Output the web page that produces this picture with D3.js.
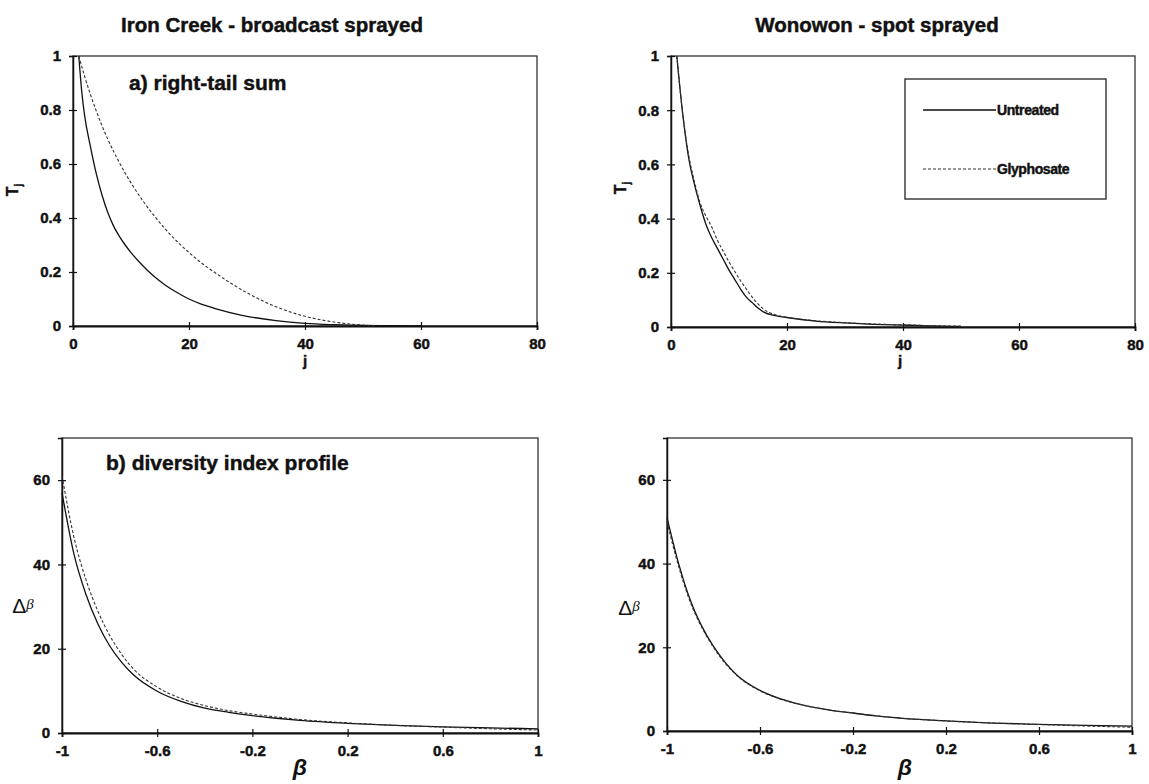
<!DOCTYPE html>
<html><head><meta charset="utf-8">
<script src="https://cdn.jsdelivr.net/npm/d3@7"></script>
<style>
body{margin:0;background:#fff}
svg{display:block}
text{font-family:Arial,"Liberation Sans",sans-serif;font-weight:bold;fill:#111}
text.heavy{stroke:#111;stroke-width:0.45px}
</style>
</head><body>
<svg id="c" width="1149" height="784"></svg>
<script>
// ---- data ----
const titles = ["Iron Creek - broadcast sprayed", "Wonowon - spot sprayed"];
const seriesNames = ["Untreated", "Glyphosate"];
const jTicks = [0, 20, 40, 60, 80];
const tTicks = [0, 0.2, 0.4, 0.6, 0.8, 1];
const betaTicks = [-1, -0.6, -0.2, 0.2, 0.6, 1];
const deltaTicks = [0, 20, 40, 60];

// Iron Creek, right-tail sum
const ironJUntreated = [1,1.5,2,3,4,5,6,7,8,9,10,12,14,16,18,20,22,25,28,30,35,40,45,50,55,60];
const ironTUntreated = [1,0.87,0.78,0.665,0.565,0.485,0.42,0.37,0.332,0.3,0.272,0.224,0.183,0.15,0.123,0.1,0.082,0.062,0.045,0.036,0.02,0.01,0.005,0.002,0.001,0];
const ironJGlyphosate = [1,2,3,4,5,6,8,10,12,14,16,18,20,22,25,28,30,33,36,40,44,48,52];
const ironTGlyphosate = [1,0.925,0.858,0.797,0.742,0.692,0.605,0.53,0.465,0.408,0.357,0.312,0.272,0.236,0.19,0.148,0.123,0.09,0.063,0.036,0.018,0.007,0.001];

// Wonowon, right-tail sum
const wonJ = [1,2,3,4,5,6,7,8,9,10,11,12,13,14,15,16,18,20,25,30,35,40,45,50];
const wonTUntreated = [1,0.79,0.63,0.53,0.45,0.38,0.33,0.29,0.25,0.21,0.175,0.14,0.11,0.09,0.07,0.055,0.042,0.035,0.022,0.015,0.01,0.007,0.004,0.002];
const wonTGlyphosate = [1,0.79,0.64,0.54,0.46,0.41,0.37,0.32,0.28,0.24,0.205,0.17,0.14,0.11,0.085,0.065,0.045,0.036,0.023,0.016,0.011,0.008,0.005,0.003];

// diversity index profiles
const beta = [-1,-0.95,-0.9,-0.85,-0.8,-0.75,-0.7,-0.6,-0.5,-0.4,-0.3,-0.2,-0.1,0,0.2,0.4,0.6,0.8,1];
const ironDUntreated = [57,42.5,33,26,20.7,16.8,13.8,9.9,7.5,5.9,4.9,4.1,3.5,3.0,2.3,1.8,1.45,1.2,1.0];
const ironDGlyphosate = [61,46.5,36.5,29,23.2,18.7,15.2,10.9,8.2,6.5,5.3,4.5,3.8,3.2,2.4,1.8,1.4,1.0,0.7];
const wonDUntreated = [51,40,31.3,25,20.2,16.4,13.4,9.7,7.5,6.0,5.0,4.3,3.6,3.1,2.4,1.9,1.6,1.35,1.15];
const wonDGlyphosate = [50,39.3,30.8,24.7,20,16.2,13.3,9.6,7.4,6.0,5.0,4.3,3.6,3.1,2.4,1.9,1.55,1.2,0.9];

// ---- drawing ----
const svg = d3.select("#c");
const fmt = d => String(d);

function zip(xs, ys){ return xs.map((v,i)=>[v, ys[i]]); }

function panel(cfg){
  const x = d3.scaleLinear().domain(cfg.xd).range([cfg.x0, cfg.x1]);
  const y = d3.scaleLinear().domain(cfg.yd).range([cfg.y1, cfg.y0]);
  const g = svg.append("g");
  g.append("rect").attr("x", cfg.x0).attr("y", cfg.y0)
    .attr("width", cfg.x1 - cfg.x0).attr("height", cfg.y1 - cfg.y0)
    .attr("fill", "none").attr("stroke", "#333").attr("stroke-width", 1.3);
  const xa = g.append("g").attr("transform", `translate(0,${y(0)})`)
    .call(d3.axisBottom(x).tickValues(cfg.xt).tickFormat(fmt).tickSizeOuter(0).tickSize(4).tickPadding(8));
  xa.selectAll(".tick line").attr("y1", -4).attr("y2", 4).attr("stroke", "#111").attr("stroke-width", 1.2);
  xa.select(".domain").attr("stroke", "#111").attr("stroke-width", 1.8);
  xa.selectAll("text").attr("font-size", 15).attr("fill", "#111").attr("class", "heavy");
  const ya = g.append("g").attr("transform", `translate(${cfg.x0},0)`)
    .call(d3.axisLeft(y).tickValues(cfg.yt).tickFormat(fmt).tickSizeOuter(0).tickSize(4).tickPadding(8));
  ya.selectAll(".tick line").attr("x1", -4).attr("x2", 4).attr("stroke", "#111").attr("stroke-width", 1.2);
  ya.select(".domain").attr("stroke", "#111").attr("stroke-width", 1.5);
  ya.selectAll("text").attr("font-size", 15).attr("fill", "#111").attr("class", "heavy");
  const line = d3.line().x(d => x(d[0])).y(d => y(d[1])).curve(d3.curveMonotoneX);
  g.append("path").datum(cfg.s1).attr("d", line).attr("fill", "none")
    .attr("stroke", "#111").attr("stroke-width", 1.3);
  g.append("path").datum(cfg.s2).attr("d", line).attr("fill", "none")
    .attr("stroke", "#333").attr("stroke-width", 1.1).attr("stroke-dasharray", "3,2");
  return {x, y, g};
}

panel({x0:73, x1:537, y0:56, y1:326, xd:[0,80], yd:[0,1], xt:jTicks, yt:tTicks,
  s1: zip(ironJUntreated, ironTUntreated), s2: zip(ironJGlyphosate, ironTGlyphosate)});
panel({x0:671, x1:1135, y0:56, y1:327, xd:[0,80], yd:[0,1], xt:jTicks, yt:tTicks,
  s1: zip(wonJ, wonTUntreated), s2: zip(wonJ, wonTGlyphosate)});
panel({x0:62, x1:538, y0:438, y1:733, xd:[-1,1], yd:[0,70], xt:betaTicks, yt:deltaTicks,
  s1: zip(beta, ironDUntreated), s2: zip(beta, ironDGlyphosate)});
panel({x0:667, x1:1132, y0:438, y1:731, xd:[-1,1], yd:[0,70], xt:betaTicks, yt:deltaTicks,
  s1: zip(beta, wonDUntreated), s2: zip(beta, wonDGlyphosate)});

svg.append("text").attr("class", "heavy").attr("x", 272).attr("y", 32).attr("text-anchor", "middle").attr("font-size", 20.5).text(titles[0]);
svg.append("text").attr("class", "heavy").attr("x", 877).attr("y", 32).attr("text-anchor", "middle").attr("font-size", 20.5).text(titles[1]);

svg.append("text").attr("class", "heavy").attr("x", 129).attr("y", 90).attr("font-size", 21).text("a) right-tail sum");
svg.append("text").attr("class", "heavy").attr("x", 106).attr("y", 470).attr("font-size", 21).text("b) diversity index profile");

[[18,190],[626,188]].forEach(([cx,cy]) => {
  const t = svg.append("text").attr("class", "heavy").attr("transform", `translate(${cx},${cy}) rotate(-90)`)
    .attr("text-anchor", "middle").attr("font-size", 16);
  t.append("tspan").text("T");
  t.append("tspan").attr("font-size", 10).attr("dy", 4).text("j");
});
svg.append("text").attr("class", "heavy").attr("x", 305).attr("y", 366).attr("text-anchor", "middle").attr("font-size", 15).text("j");
svg.append("text").attr("class", "heavy").attr("x", 900).attr("y", 366).attr("text-anchor", "middle").attr("font-size", 15).text("j");

[[23,613],[629,615]].forEach(([cx,cy]) => {
  const t = svg.append("text").attr("x", cx).attr("y", cy).attr("text-anchor", "middle");
  t.append("tspan").attr("font-size", 21).attr("font-weight", "normal").text("Δ");
  t.append("tspan").attr("font-size", 15).attr("font-weight", "normal").attr("font-style", "italic")
    .attr("font-family", "'Liberation Serif','DejaVu Serif',serif").attr("dy", -4).text("β");
});
[[300,775],[905,775]].forEach(([cx,cy]) => {
  svg.append("text").attr("x", cx).attr("y", cy).attr("text-anchor", "middle")
    .attr("font-size", 23).attr("font-weight", "normal").attr("font-style", "italic")
    .attr("font-family", "'Liberation Serif','DejaVu Serif',serif").text("β");
});

const lg = svg.append("g");
lg.append("rect").attr("x", 905).attr("y", 79).attr("width", 201).attr("height", 120)
  .attr("fill", "#fff").attr("stroke", "#222").attr("stroke-width", 1.3);
const legendRows = [{name: seriesNames[0], dash: null, y: 110}, {name: seriesNames[1], dash: "3,2", y: 169}];
legendRows.forEach(r => {
  const l = lg.append("line").attr("x1", 923).attr("x2", 996).attr("y1", r.y).attr("y2", r.y)
    .attr("stroke", r.dash ? "#333" : "#111").attr("stroke-width", r.dash ? 1.1 : 1.3);
  if (r.dash) l.attr("stroke-dasharray", r.dash);
  lg.append("text").attr("class", "heavy").attr("x", 997).attr("y", r.y + 5).attr("font-size", 14)
    .attr("letter-spacing", -0.4).text(r.name);
});
</script>
</body></html>
